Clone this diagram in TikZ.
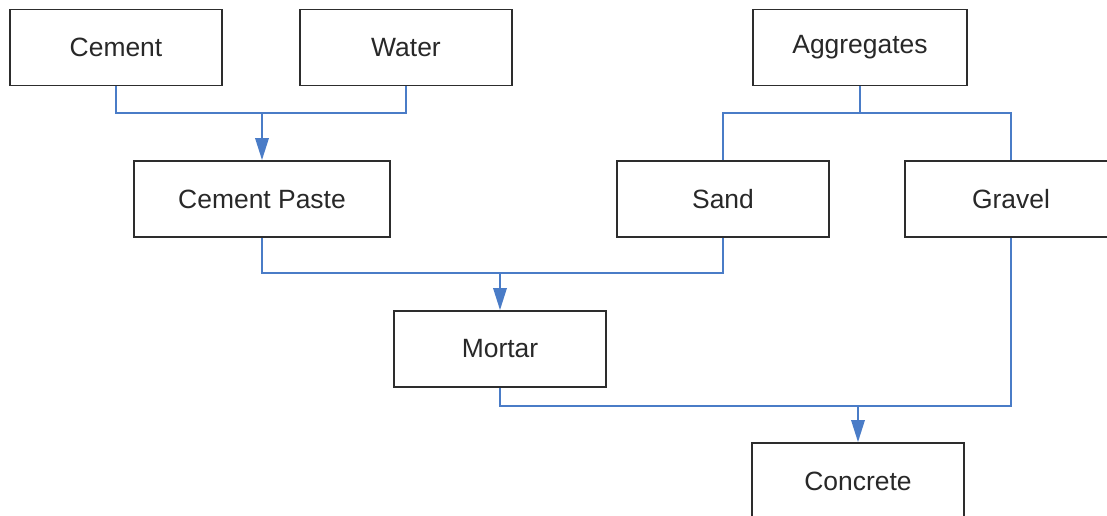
\documentclass[tikz,border=0pt]{standalone}
\usepackage{fontspec}
\setmainfont{Liberation Sans}
\usetikzlibrary{arrows.meta}
\definecolor{linkblue}{RGB}{74,124,199}
\definecolor{boxgray}{RGB}{45,45,45}
\definecolor{textgray}{RGB}{40,40,40}
\tikzset{
  block/.style={draw=boxgray, line width=1.4pt, fill=white, text=textgray,
    minimum width=5.3cm, minimum height=1.9cm, inner sep=0pt,
    font=\fontsize{18.8}{22}\selectfont},
  link/.style={draw=linkblue, line width=1.1pt},
  feed/.style={link, -{Triangle[length=0.55cm, width=0.34cm]}}
}
\begin{document}
\begin{tikzpicture}[x=0.025cm, y=-0.025cm]
  \useasboundingbox (0,0) rectangle (1107,515);
  \clip (0,0) rectangle (1107,515);
  \fill[white] (0,0) rectangle (1107,515);
  % raw materials
  \node[block] (cement) at (116,47.5) {Cement};
  \node[block] (water) at (406,47.5) {Water};
  \node[block, minimum width=5.35cm] (aggregates) at (860,47.5) {Aggregates};
  % intermediate products
  \node[block, minimum width=6.4cm] (paste) at (262,199) {Cement Paste};
  \node[block] (sand) at (723,199) {Sand};
  \node[block] (gravel) at (1011,199) {Gravel};
  \node[block] (mortar) at (500,349) {Mortar};
  \node[block] (concrete) at (858,481) {Concrete};
  % junctions
  \coordinate (pastejoin) at (262,113);
  \coordinate (aggjoin) at (860,113);
  \coordinate (mortarjoin) at (500,273);
  \coordinate (concjoin) at (858,406);
  % connectors
  \draw[link] (cement.south) |- (pastejoin) -| (water.south);
  \draw[feed] (pastejoin) -- (paste.north);
  \draw[link] (aggregates.south) -- (aggjoin);
  \draw[link] (sand.north) |- (aggjoin) -| (gravel.north);
  \draw[link] (paste.south) |- (mortarjoin) -| (sand.south);
  \draw[feed] (mortarjoin) -- (mortar.north);
  \draw[link] (mortar.south) |- (concjoin) -| (gravel.south);
  \draw[feed] (concjoin) -- (concrete.north);
\end{tikzpicture}
\end{document}
